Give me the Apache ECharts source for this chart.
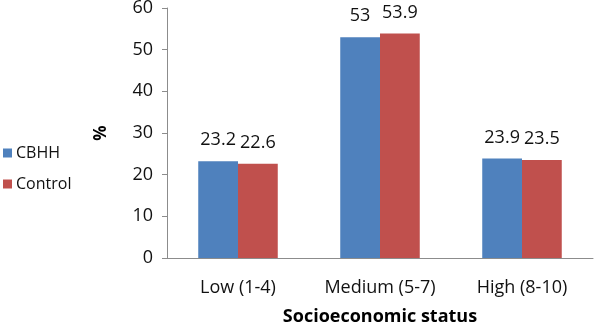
<!DOCTYPE html>
<html>
<head>
<meta charset="utf-8">
<script src="https://cdn.jsdelivr.net/npm/echarts@6/dist/echarts.min.js"></script>
<style>html,body{margin:0;padding:0;background:#fff}#c{width:597px;height:324px}</style>
</head>
<body>
<div id="c"></div>
<script>
const categories = ['Low (1-4)', 'Medium (5-7)', 'High (8-10)'];
const cbhh = [23.2, 53, 23.9];
const control = [22.6, 53.9, 23.5];

const font = '"Open Sans", "Liberation Sans", sans-serif';
const axisGray = '#8c8c8c';

const myChart = echarts.init(document.getElementById('c'));
const label = {show: true, position: 'top', distance: 12, color: '#111', fontSize: 18, fontFamily: font};
myChart.setOption({
  animation: false,
  grid: {left: 167, right: 4, top: 8, bottom: 66, containLabel: false, outerBoundsMode: 'none'},
  legend: {
    orient: 'vertical', left: 0, top: 145, itemGap: 15, padding: [0, 0, 0, 3],
    itemWidth: 9, itemHeight: 9, icon: 'rect',
    textStyle: {fontSize: 16, fontFamily: font, color: '#111', padding: [0, 0, 0, -1]},
    data: ['CBHH', 'Control']
  },
  xAxis: {
    type: 'category', data: categories,
    name: 'Socioeconomic status', nameLocation: 'middle', nameGap: 50,
    nameTextStyle: {fontSize: 18, fontWeight: 'bold', fontFamily: font, color: '#000'},
    axisLine: {lineStyle: {color: axisGray}},
    axisTick: {length: 7, lineStyle: {color: axisGray}},
    axisLabel: {fontSize: 18, fontFamily: font, color: '#111', margin: 21, interval: 0, hideOverlap: false}
  },
  yAxis: {
    type: 'value', min: 0, max: 60, interval: 10,
    name: '%', nameLocation: 'middle', nameGap: 57, nameRotate: 90,
    nameTextStyle: {fontSize: 17, fontWeight: 'bold', fontFamily: font, color: '#000'},
    axisLine: {show: true, lineStyle: {color: axisGray}},
    axisTick: {show: true, length: 5, lineStyle: {color: axisGray}},
    splitLine: {show: false},
    axisLabel: {fontSize: 18, fontFamily: font, color: '#111', margin: 14}
  },
  series: [
    {name: 'CBHH', type: 'bar', data: cbhh, barGap: '0%', barCategoryGap: '44%',
     itemStyle: {color: '#4f81bd'}, label: label},
    {name: 'Control', type: 'bar', data: control,
     itemStyle: {color: '#c0504d'}, label: label}
  ]
});
</script>
</body>
</html>
